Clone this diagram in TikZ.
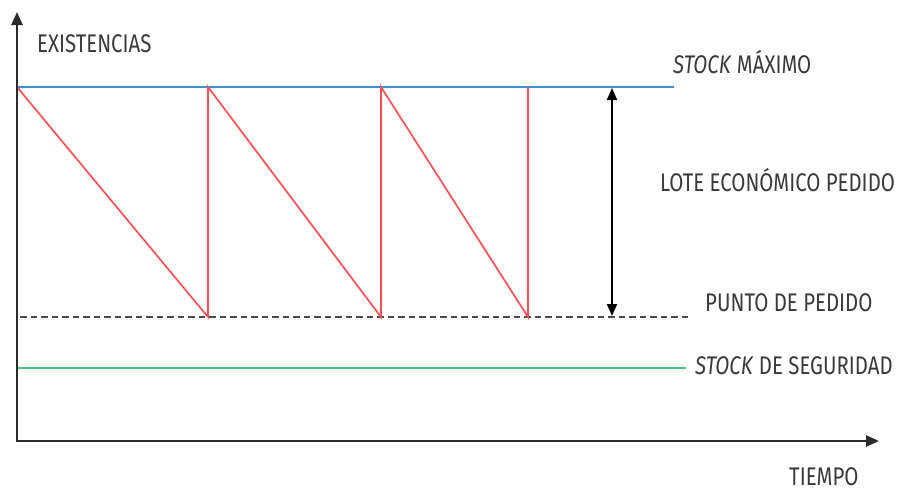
\documentclass[tikz,border=0pt]{standalone}
\usepackage{fontspec}
\setmainfont{Fira Sans}[FakeStretch=0.80]
\usetikzlibrary{arrows.meta}
\definecolor{axisgray}{HTML}{2B2B2B}
\definecolor{txtgray}{HTML}{3A3A3A}
\definecolor{sred}{HTML}{FF4F55}
\definecolor{sblue}{HTML}{3D8FD6}
\definecolor{sgreen}{HTML}{4DC174}
\tikzset{
  axis/.style={draw=axisgray, line width=2.6pt, -{Triangle[length=13pt,width=11pt]}},
  lbl/.style={text=txtgray, font=\fontsize{25.5}{28}\selectfont, inner sep=0pt},
  saw/.style={draw=sred, line width=1.7pt, line join=miter},
  level/.style={line width=2pt},
  dbl/.style={draw=black, line width=2pt, {Triangle[length=12pt,width=10pt]}-{Triangle[length=12pt,width=10pt]}}
}
\begin{document}
\begin{tikzpicture}[x=1pt,y=-1pt]
\useasboundingbox (0,0) rectangle (899,491);
\coordinate (O) at (17,441);
\coordinate (Ytop) at (17,12);
\coordinate (Xend) at (879,441);
% levels
\coordinate (maxL) at (17,87);
\coordinate (maxR) at (674,87);
\coordinate (ppL) at (20,317);
\coordinate (ppR) at (688,317);
\coordinate (ssL) at (17,368);
\coordinate (ssR) at (686,368);
\draw[level, draw=sblue] (maxL) -- (maxR);
\draw[level, draw=axisgray!85, dash pattern=on 6.5pt off 4pt] (ppL) -- (ppR);
\draw[level, draw=sgreen] (ssL) -- (ssR);
% sawtooth
\coordinate (a0) at (17,87);
\coordinate (b1) at (208,317);
\coordinate (t1) at (208,87);
\coordinate (b2) at (381,317);
\coordinate (t2) at (381,87);
\coordinate (b3) at (528,317);
\coordinate (t3) at (528,87);
\draw[saw] (a0) -- (b1) -- (t1) -- (b2) -- (t2) -- (b3) -- (t3);
% double arrow
\coordinate (dT) at (612,88);
\coordinate (dB) at (612,316);
\draw[dbl] (dT) -- (dB);
% axes
\draw[axis] (O) -- (Ytop);
\draw[axis] ([xshift=-1.3pt]O) -- (Xend);
% labels
\node[lbl, anchor=west] (yl) at (37,44) {EXISTENCIAS};
\node[lbl, anchor=west] (smax) at (673,62) {\textit{STOCK} MÁXIMO};
\node[lbl, anchor=west] (lote) at (660,180) {LOTE ECONÓMICO PEDIDO};
\node[lbl, anchor=west] (pp) at (705,303) {PUNTO DE PEDIDO};
\node[lbl, anchor=west] (sseg) at (695,366) {\textit{STOCK} DE SEGURIDAD};
\node[lbl, anchor=west] (xl) at (789,477) {TIEMPO};
\end{tikzpicture}
\end{document}
